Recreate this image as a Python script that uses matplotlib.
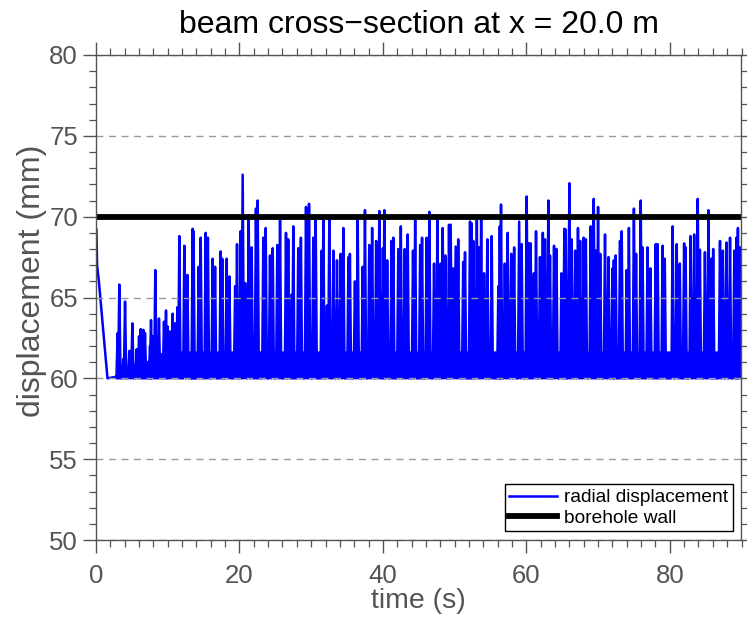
import numpy as np
import matplotlib
matplotlib.use("Agg")
import matplotlib.pyplot as plt
from matplotlib.ticker import MultipleLocator

plt.rcParams['font.family'] = ['Liberation Sans', 'DejaVu Sans']

# start of the record: settling from the initial position onto the 60 mm rest level
start_t = [0.06, 0.15, 0.4, 1.6, 2.9]
start_v = [69.2, 67.0, 66.0, 60.0, 60.1]

# spike peaks (time in s, displacement in mm)
peak_t = [3.02, 3.25, 3.81, 4.05, 4.65, 5.07, 5.67, 6.0, 6.23, 6.6, 6.83, 7.53, 7.67, 7.99,
          8.27, 8.78, 9.06, 9.48, 9.76, 9.99, 10.32, 10.69, 11.0, 11.34, 11.62, 12.32, 12.74,
          13.48, 13.6, 14.32, 14.6, 15.29, 15.6, 16.27, 16.6, 17.38, 17.6, 18.22, 18.6, 19.4,
          19.66, 20.17, 20.45, 20.8, 21.29, 21.7, 22.3, 22.54, 23.33, 23.66, 24.26, 24.64,
          25.28, 25.66, 26.49, 26.8, 27.3, 27.51, 28.2, 28.57, 29.28, 29.7, 30.3, 30.63, 31.47,
          31.7, 32.2, 32.53, 33.09, 33.6, 34.1, 34.49, 35.2, 35.4, 36.1, 36.49, 37.19, 37.5,
          38.1, 38.5, 39.06, 39.5, 40.0, 40.2, 40.6, 41.2, 41.45, 42.15, 42.5, 43.05, 43.46,
          44.2, 44.5, 45.2, 45.46, 46.1, 46.48, 47.13, 47.6, 48.05, 48.34, 48.7, 49.22, 49.45,
          49.8, 50.15, 50.5, 51.2, 51.45, 52.15, 52.35, 52.6, 53.1, 53.4, 53.7, 54.1, 54.56,
          55.17, 56.1, 56.3, 56.47, 57.0, 57.4, 57.9, 58.3, 59.0, 59.35, 60.05, 60.35, 60.6,
          61.05, 61.35, 61.9, 62.3, 62.6, 63.07, 63.3, 63.86, 64.2, 64.9, 65.3, 65.5, 66.0,
          66.3, 66.8, 67.2, 67.5, 68.0, 68.3, 68.97, 69.4, 69.7, 70.0, 70.3, 70.97, 71.45,
          72.0, 72.2, 72.45, 73.06, 73.3, 74.0, 74.3, 75.0, 75.3, 75.95, 76.2, 76.9, 77.3,
          78.04, 78.3, 79.0, 79.3, 80.4, 80.97, 81.4, 82.0, 82.2, 82.9, 83.4, 83.9, 84.2, 84.9,
          85.4, 85.8, 86.05, 87.0, 87.4, 87.9, 88.4, 89.0, 89.3, 89.5, 89.8]
peak_v = [62.8, 65.8, 61.2, 64.75, 61.7, 63.4, 61.8, 62.6, 63.05, 63.0, 62.8, 62.0, 63.6, 62.6,
          66.7, 63.7, 61.5, 63.5, 64.2, 63.2, 62.9, 64.0, 63.4, 64.4, 68.8, 68.2, 66.4,
          69.25, 69.1, 66.9, 68.7, 69.0, 68.7, 67.4, 66.9, 67.85, 67.4, 67.4, 66.3, 65.7,
          68.3, 69.1, 72.6, 65.9, 70.1, 68.1, 70.5, 71.0, 68.7, 69.3, 67.6, 68.05,
          68.25, 69.8, 69.0, 68.6, 65.2, 69.4, 68.05, 68.7, 70.6, 70.8, 68.7, 69.8, 67.9,
          69.8, 64.5, 69.8, 67.9, 67.3, 67.7, 69.3, 67.5, 67.7, 66.0, 69.8, 66.9, 70.4,
          68.25, 69.3, 68.5, 70.35, 68.05, 70.4, 67.3, 68.5, 68.7, 68.0, 69.4, 68.0, 68.9,
          67.9, 69.8, 68.25, 68.7, 68.7, 70.3, 67.1, 69.8, 67.1, 69.3, 67.6, 69.5, 69.5,
          66.8, 68.15, 68.6, 67.2, 67.8, 69.7, 69.6, 68.5, 69.8, 68.1, 69.8, 66.5, 68.6,
          68.8, 65.7, 69.4, 70.75, 67.1, 69.0, 67.7, 68.1, 69.7, 68.3, 71.25, 68.35, 68.35,
          66.5, 69.1, 67.5, 69.0, 68.6, 71.0, 67.6, 68.2, 68.0, 66.5, 69.25, 69.2, 72.07,
          68.6, 67.9, 69.3, 68.5, 68.7, 68.6, 69.4, 71.1, 67.9, 70.6, 67.7, 68.9, 67.5,
          66.8, 67.3, 67.6, 68.5, 69.1, 66.7, 69.3, 70.5, 67.7, 71.0, 68.1, 68.1, 66.8,
          68.3, 68.3, 68.2, 67.4, 69.4, 68.3, 67.1, 68.35, 68.1, 68.8, 68.9, 71.1, 67.95, 67.8,
          70.4, 67.4, 68.0, 68.5, 67.9, 68.4, 68.7, 67.9, 68.7, 69.3, 68.1]

# upper edge of the dense chatter band just above the rest level
band_t = [2.9, 5.0, 8.0, 11.0, 90.0]
band_v = [60.4, 60.9, 61.2, 61.7, 61.7]

rest = 60.0
wall = 70.0
tmax = 90.0

# build the trace: each peak rises from and returns to the rest level
half_w = 0.17
t_line = list(start_t)
v_line = list(start_v)
for t, v in zip(peak_t, peak_v):
    t_line += [t - half_w, t, t + half_w]
    v_line += [rest, v, rest]
t_line.append(tmax)
v_line.append(rest)

fig = plt.figure(figsize=(7.47, 6.2), dpi=100)
ax = fig.add_axes([96 / 747, 80 / 620, 645.5 / 747, 485 / 620])

blue = (0, 0, 1)
ax.fill_between(band_t, rest, band_v, color=blue, lw=0, zorder=1.5)
ax.plot(t_line, v_line, color=blue, lw=1.8, label='radial displacement', zorder=2)
ax.plot([0, tmax], [wall, wall], color='k', lw=4.2, label='borehole wall', zorder=3)

ax.set_xlim(0, tmax)
ax.set_ylim(50, 80)
ax.xaxis.set_major_locator(MultipleLocator(20))
ax.xaxis.set_minor_locator(MultipleLocator(2))
ax.yaxis.set_major_locator(MultipleLocator(5))
ax.yaxis.set_minor_locator(MultipleLocator(1))

gray = (0.33, 0.33, 0.33)
for s in ax.spines.values():
    s.set_color(gray)
    s.set_linewidth(1.0)
    s.set_zorder(4)
ax.tick_params(which='both', direction='out', top=True, right=True, colors=gray,
               labelcolor=gray, labelsize=18.5)
ax.tick_params(which='major', length=9.5, width=1.0)
ax.tick_params(which='minor', length=4.8, width=0.9)
ax.tick_params(axis='x', pad=8)
ax.tick_params(axis='y', pad=3.5)

ax.set_axisbelow(False)
ax.grid(axis='y', which='major', color=(0.6, 0.6, 0.6), ls=(0, (5, 4)), lw=1.0)

ax.set_title('beam cross\u2212section at x = 20.0 m', fontsize=23, color='k', pad=16)
ax.set_xlabel('time (s)', fontsize=20.5, color=gray, labelpad=0)
ax.set_ylabel('displacement (mm)', fontsize=23, color=gray)
ax.yaxis.set_label_coords(-0.076, 0.535)

leg = ax.legend(loc='lower right', fontsize=13.8, fancybox=False, framealpha=1,
                edgecolor='k', borderaxespad=0.45, handlelength=2.5, borderpad=0.25,
                labelspacing=0.15, handletextpad=0.35)
leg.get_frame().set_linewidth(1.0)
leg.set_zorder(5)

fig.savefig('out.png', dpi=100)
